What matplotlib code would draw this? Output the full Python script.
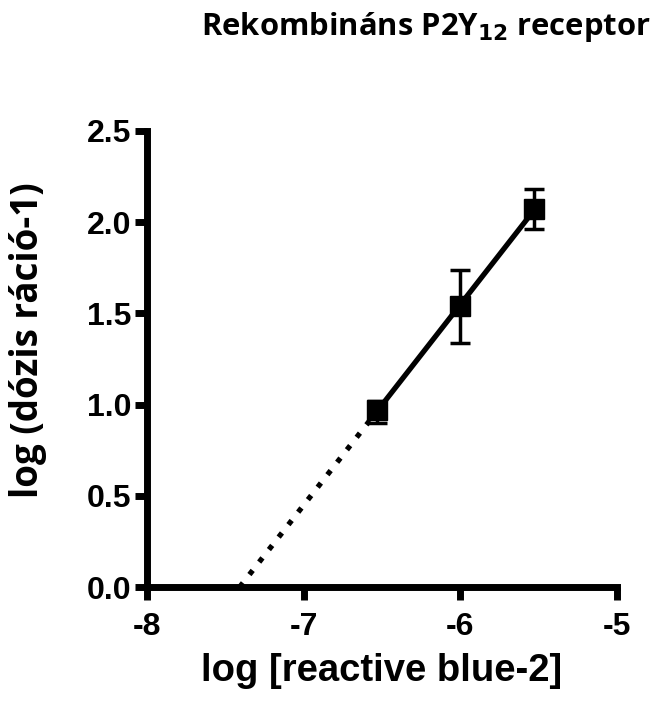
import numpy as np
import matplotlib.pyplot as plt

# Schild plot data
log_conc = [-6.53, -6.0, -5.53]
log_dr = [0.97, 1.54, 2.07]
err_lo = [0.07, 0.20, 0.11]
err_hi = [0.05, 0.20, 0.11]

xticks = [-8, -7, -6, -5]
yticks = [0.0, 0.5, 1.0, 1.5, 2.0, 2.5]

plt.rcParams['font.family'] = ['Liberation Sans', 'DejaVu Sans']

fig = plt.figure(figsize=(6.52, 7.02), dpi=100)
ax = fig.add_axes([0.2255, 0.1638, 0.7209, 0.6496])

# linear fit
slope, icpt = np.polyfit(log_conc, log_dr, 1)
x0 = -icpt / slope
xs = np.array([min(log_conc), max(log_conc)])
ax.plot(xs, slope * xs + icpt, color='black', lw=3.8, zorder=2)
xd = np.array([x0, min(log_conc)])
ax.plot(xd, slope * xd + icpt, color='black', lw=3.8, ls=(0, (1, 2)), zorder=2)

ax.errorbar(log_conc, log_dr, yerr=[err_lo, err_hi], fmt='s', color='black',
            ms=15, ecolor='black', elinewidth=2.5, capsize=7, capthick=2.5, zorder=3)

ax.set_xlim(-8, -5)
ax.set_ylim(0, 2.5)
ax.set_xticks(xticks)
ax.set_xticklabels(['-8', '-7', '-6', '-5'])
ax.set_yticks(yticks)
ax.set_yticklabels([f'{v:.1f}' for v in yticks])

for s in ['top', 'right']:
    ax.spines[s].set_visible(False)
for s in ['left', 'bottom']:
    ax.spines[s].set_linewidth(5)
    ax.spines[s].set_capstyle('projecting')
ax.tick_params(axis='both', width=5, length=9, direction='out', labelsize=23, pad=2)
ax.tick_params(axis='x', pad=9)
for lab in ax.get_xticklabels() + ax.get_yticklabels():
    lab.set_fontweight('bold')

ax.set_xlabel('log [reactive blue-2]', fontsize=27.5, fontweight='bold', labelpad=8)
ax.set_ylabel('log (dózis ráció-1)', fontsize=26.5, fontweight='bold',
              family='Open Sans')
ax.yaxis.set_label_coords(-0.213, 0.542)

fig.text(0.6534, 0.950, r'Rekombináns P2Y$_{\mathbf{12}}$ receptor', ha='center', va='baseline',
         fontsize=22.3, fontweight='bold', family='Open Sans')

fig.savefig('out.png', dpi=100)
